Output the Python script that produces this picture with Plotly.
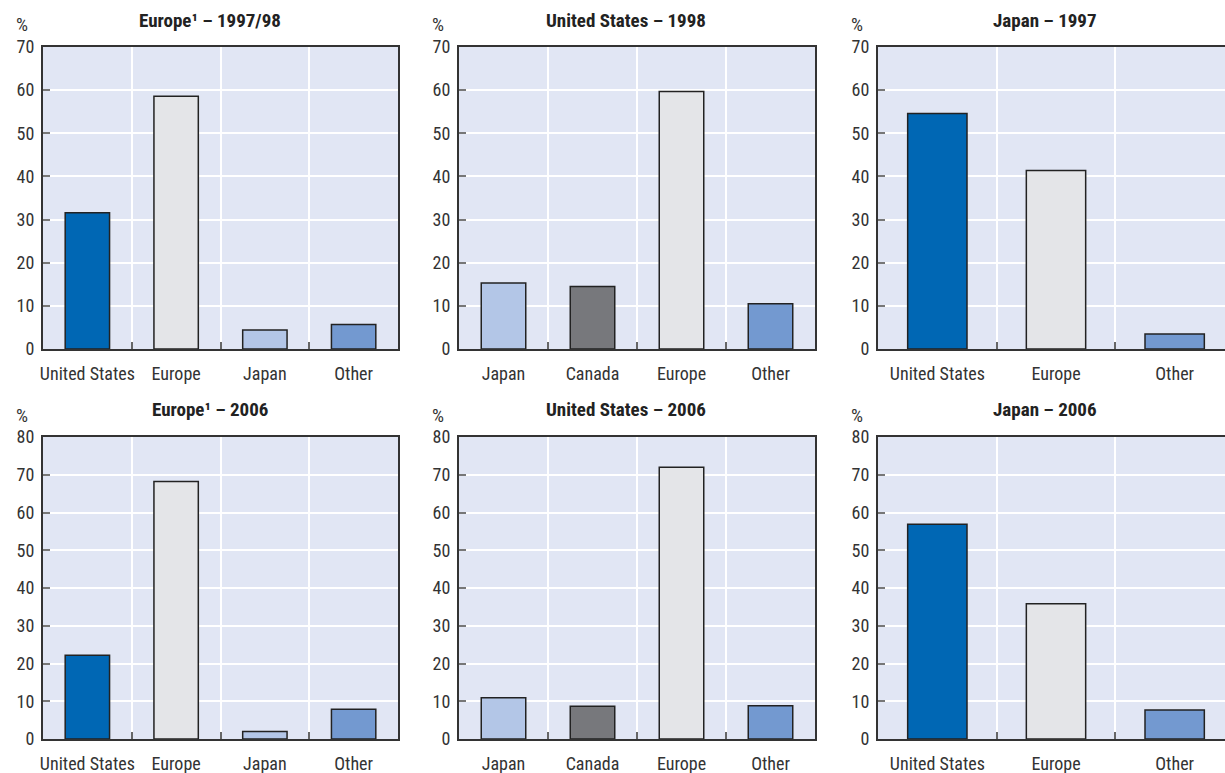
import plotly.graph_objects as go

# categories per panel
cats_europe = ["United States", "Europe", "Japan", "Other"]
cats_us = ["Japan", "Canada", "Europe", "Other"]
cats_japan = ["United States", "Europe", "Other"]

# shares (%)
europe_9798 = [31.6, 58.6, 4.4, 5.7]
us_1998 = [15.3, 14.5, 59.7, 10.5]
japan_1997 = [54.6, 41.4, 3.5]
europe_2006 = [22.2, 68.2, 2.0, 7.9]
us_2006 = [10.9, 8.7, 72.0, 8.8]
japan_2006 = [56.9, 35.8, 7.7]

titles = ["Europe¹ – 1997/98", "United States – 1998", "Japan – 1997",
          "Europe¹ – 2006", "United States – 2006", "Japan – 2006"]

colors = {
    "United States": "#0067b4",
    "Europe": "#e4e5e8",
    "Japan": "#b3c6e7",
    "Canada": "#77787c",
    "Other": "#7399d0",
}

W, H = 1225, 773
FONT = "Liberation Sans Narrow, Roboto Condensed, Arial Narrow, Roboto, sans-serif"

panels = [
    (cats_europe, europe_9798, 70),
    (cats_us, us_1998, 70),
    (cats_japan, japan_1997, 70),
    (cats_europe, europe_2006, 80),
    (cats_us, us_2006, 80),
    (cats_japan, japan_2006, 80),
]

# pixel boxes of the plot areas (left, right) / (top, bottom)
xpix = [(43, 398), (459, 815), (878, 1225)]
ypix = [(47, 349), (437, 739)]

fig = go.Figure()
for i, (cats, vals, ymax) in enumerate(panels):
    r, c = divmod(i, 3)
    n = i + 1
    xa = "x" if n == 1 else f"x{n}"
    ya = "y" if n == 1 else f"y{n}"
    fig.add_trace(go.Bar(
        x=cats, y=vals, xaxis=xa, yaxis=ya, width=0.5,
        marker=dict(color=[colors[k] for k in cats], line=dict(color="#222", width=1.5)),
        showlegend=False,
    ))
    x0, x1 = xpix[c]
    y0, y1 = ypix[r]
    if c == 2:
        # right-hand panels are cut off by the page edge
        xrange = [-0.5, -0.5 + (x1 - x0) / ((x1 - x0 + 9) / 3)]
    else:
        xrange = [-0.5, len(cats) - 0.5]
    fig.layout[f"xaxis{'' if n == 1 else n}"] = dict(
        domain=[x0 / W, x1 / W], anchor=ya, type="category", range=xrange,
        tickson="boundaries", ticks="inside", ticklen=7, tickcolor="#666", tickwidth=1.5,
        showgrid=True, gridcolor="white", gridwidth=1.5,
        showline=True, linecolor="#333", linewidth=2, mirror=True,
        tickfont=dict(family=FONT, size=18, color="#333"), ticklabelstandoff=7,
        tickangle=0, automargin=False, fixedrange=True,
    )
    fig.layout[f"yaxis{'' if n == 1 else n}"] = dict(
        domain=[1 - y1 / H, 1 - y0 / H], anchor=xa, range=[0, ymax], dtick=10,
        ticks="inside", ticklen=7, tickcolor="#777", tickwidth=1.5,
        showgrid=True, gridcolor="white", gridwidth=1.5, zeroline=False,
        showline=True, linecolor="#333", linewidth=2, mirror=(c != 2),
        tickfont=dict(family=FONT, size=18, color="#333"), ticklabelstandoff=3,
        automargin=False, fixedrange=True,
    )
    # panel title and unit label
    fig.add_annotation(text=f"<b>{titles[i]}</b>", x=((x0 + x0 + 356) / 2 - 11) / W, y=1 - (y0 - 27) / H,
                       xref="paper", yref="paper", showarrow=False, xanchor="center", yanchor="middle",
                       font=dict(family=FONT, size=19, color="#222"))
    fig.add_annotation(text="%", x=(x0 - 21) / W, y=1 - (y0 - 22) / H,
                       xref="paper", yref="paper", showarrow=False, xanchor="center", yanchor="middle",
                       font=dict(family=FONT, size=19, color="#333"))

fig.update_layout(
    width=W, height=H, margin=dict(l=0, r=0, t=0, b=0, autoexpand=False),
    paper_bgcolor="white", plot_bgcolor="#e1e6f4", bargap=0.5,
)
fig.write_html("out.html", config={"displayModeBar": False},
               post_script="document.body.style.margin='0';")
